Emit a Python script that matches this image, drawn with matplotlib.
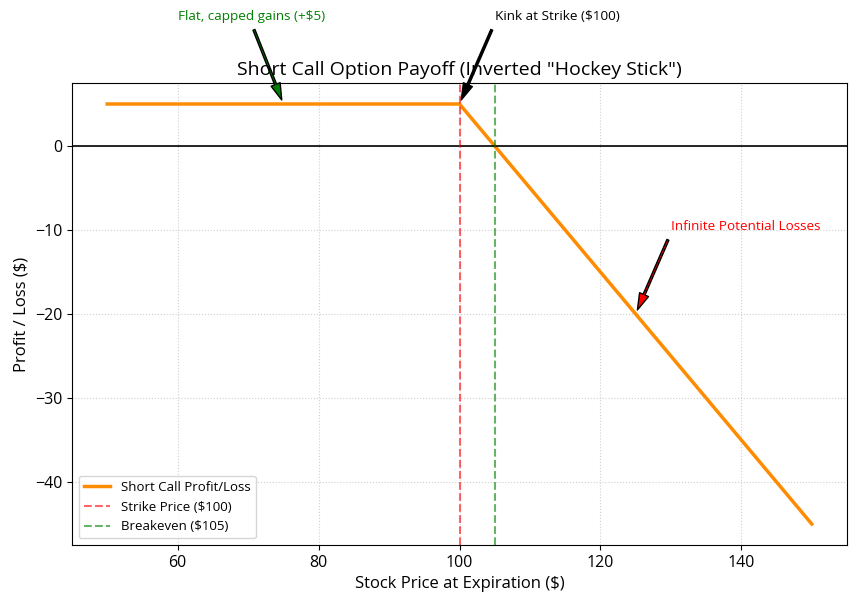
import numpy as np
import matplotlib
matplotlib.use('Agg')
import matplotlib.pyplot as plt

# short call: strike 100, premium 5
strike = 100
premium = 5
breakeven = strike + premium
prices = np.array([50, 100, 150])
payoff = np.array([5, 5, -45])

plt.rcParams['font.family'] = ['Open Sans', 'DejaVu Sans']

fig = plt.figure(figsize=(8.56, 6.04), dpi=100)
ax = fig.add_axes([72/856, 59/604, 775/856, 462/604])

ax.plot(prices, payoff, color='darkorange', lw=2.5, label='Short Call Profit/Loss')
ax.axhline(0, color='black', lw=1.2)
ax.axvline(strike, color='red', ls='--', alpha=0.6, label=f'Strike Price (${strike})')
ax.axvline(breakeven, color='green', ls='--', alpha=0.6, label=f'Breakeven (${breakeven})')

ax.annotate('Flat, capped gains (+$5)', xy=(75, 5), xytext=(60, 15), color='green', fontsize=9.7,
            arrowprops=dict(facecolor='green', shrink=0.05, width=1.5, headwidth=7))
ax.annotate('Kink at Strike ($100)', xy=(100, 5), xytext=(105, 15), color='black', fontsize=9.7,
            arrowprops=dict(facecolor='black', shrink=0.05, width=1.5, headwidth=7))
ax.annotate('Infinite Potential Losses', xy=(125, -20), xytext=(130, -10), color='red', fontsize=9.7,
            arrowprops=dict(facecolor='red', shrink=0.05, width=1.5, headwidth=7))

ax.set_title('Short Call Option Payoff (Inverted "Hockey Stick")', fontsize=14)
ax.set_xlabel('Stock Price at Expiration ($)', fontsize=12)
ax.set_ylabel('Profit / Loss ($)', fontsize=12)
ax.tick_params(labelsize=11.5)
ax.grid(True, ls=':', alpha=0.6)
ax.legend(loc='lower left', fontsize=9.5)

fig.savefig('out.png', dpi=100)
